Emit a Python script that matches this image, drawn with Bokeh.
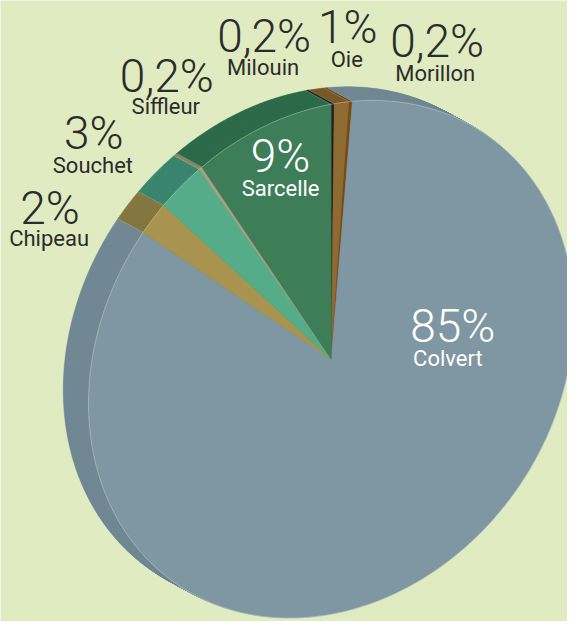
import numpy as np
from bokeh.plotting import figure
from bokeh.models import Range1d, ColumnDataSource
from bokeh.core.properties import value
from bokeh.embed import file_html
from bokeh.resources import INLINE

# ---------------- data ----------------
species = ["Milouin", "Oie", "Morillon", "Colvert", "Chipeau", "Souchet", "Siffleur", "Sarcelle"]
shares = [0.2, 1, 0.2, 85, 2, 3, 0.2, 9]
pct_labels = ["0,2%", "1%", "0,2%", "85%", "2%", "3%", "0,2%", "9%"]

# ---------------- styles ----------------
BG = "#E0EBC2"
top_colors = ["#1E1E1E", "#8F6B34", "#7A4A12", "#7F96A3", "#A8934F", "#55AC89", "#A9A080", "#3D7D58"]
side_colors = ["#161616", "#7A5A2A", "#6A3F0E", "#728996", "#857842", "#3B8670", "#8C8668", "#2F6B4B"]
label_colors = ["#2B2B2B", "#2B2B2B", "#2B2B2B", "#FFFFFF", "#2B2B2B", "#2B2B2B", "#2B2B2B", "#FFFFFF"]

# label layout (reference pixels, baselines)
pct_x = [271, 357, 449, 465, 51, 96, 171, 288]
pct_y = [52, 43, 57, 350, 228, 152, 93, 175]
name_x = [270, 356, 447, 460, 50, 95, 170, 288]
name_y = [76, 68, 82, 375, 252, 177, 116, 200]
PCT_FS, NAME_FS = 46, 22

# pie geometry (reference pixels)
CX, CY = 340.0, 368.0
A, B = 280.0, 233.0          # semi axes of the projected top face
PSI0 = np.radians(35.0)      # direction of major axis (clockwise from up)
DX, DY = -26.0, -14.0        # offset of the back face (thickness)
e_maj = np.array([np.sin(PSI0), -np.cos(PSI0)])
e_min = np.array([np.sin(PSI0 + np.pi / 2), -np.cos(PSI0 + np.pi / 2)])
PHI0 = -np.arctan(-np.tan(PSI0) * A / B)   # data angle mapped on the major axis


def rim(phi_deg, t=0.0):
    al = np.radians(np.asarray(phi_deg)) - PHI0
    x = CX + t * DX + A * np.cos(al) * e_maj[0] + B * np.sin(al) * e_min[0]
    y = CY + t * DY + A * np.cos(al) * e_maj[1] + B * np.sin(al) * e_min[1]
    return x, y


vals = np.array(shares, dtype=float)
bounds = np.concatenate([[0.0], np.cumsum(vals) / vals.sum() * 360.0])


def wedge(i, t=0.0):
    a0, a1 = bounds[i], bounds[i + 1]
    n = max(3, int((a1 - a0) / 0.5) + 2)
    ph = np.linspace(a0, a1, n)
    x, y = rim(ph, t)
    return [CX + t * DX] + list(x), [CY + t * DY] + list(y)


p = figure(width=567, height=621, x_range=Range1d(0, 583), y_range=Range1d(637, 0),
           output_backend="svg", toolbar_location=None, min_border=0,
           x_axis_type=None, y_axis_type=None,
           background_fill_color=BG, border_fill_color=BG, outline_line_color=None)
p.grid.visible = False

# side (thickness) drawn as stacked back copies
K = 30
xs, ys, cs = [], [], []
for k in range(K, 0, -1):
    t = k / K
    for i in range(len(species)):
        wx, wy = wedge(i, t)
        xs.append(wx)
        ys.append(wy)
        cs.append(side_colors[i])
p.patches(xs, ys, fill_color=cs, line_color=cs, line_width=0.6)

# slice boundaries on the side
sx, sy = [], []
for b in bounds[:-1]:
    x0, y0 = rim(b, 0.0)
    x1, y1 = rim(b, 1.0)
    sx.append([float(x0), float(x1)])
    sy.append([float(y0), float(y1)])
p.multi_line(sx, sy, line_color="#DDE8CC", line_alpha=0.35, line_width=0.8)

# top face
txs, tys = [], []
for i in range(len(species)):
    wx, wy = wedge(i, 0.0)
    txs.append(wx)
    tys.append(wy)
p.patches(txs, tys, fill_color=top_colors, line_color=top_colors, line_width=0.5)

# light rim edge of the top face
rx, ry = rim(np.linspace(0, 360, 721), 0.0)
p.line(rx, ry, line_color="#DDE8CC", line_alpha=0.5, line_width=0.8)

# labels (placed by their middle line)
src = ColumnDataSource(dict(px=pct_x, py=[v - 0.34 * PCT_FS for v in pct_y],
                            nx=name_x, ny=[v - 0.34 * NAME_FS for v in name_y],
                            pct=pct_labels, name=species, col=label_colors))
p.text(x="px", y="py", text="pct", source=src, text_color="col",
       text_font=value("Roboto Light"), text_font_size="%dpx" % PCT_FS,
       text_align="center", text_baseline="middle")
p.text(x="nx", y="ny", text="name", source=src, text_color="col",
       text_font=value("Roboto"), text_font_size="%dpx" % NAME_FS,
       text_align="center", text_baseline="middle")

html = file_html(p, INLINE, title="Répartition")
html = html.replace("<body>", '<body style="background-color:%s;">' % BG, 1)
open("out.html", "w").write(html)
